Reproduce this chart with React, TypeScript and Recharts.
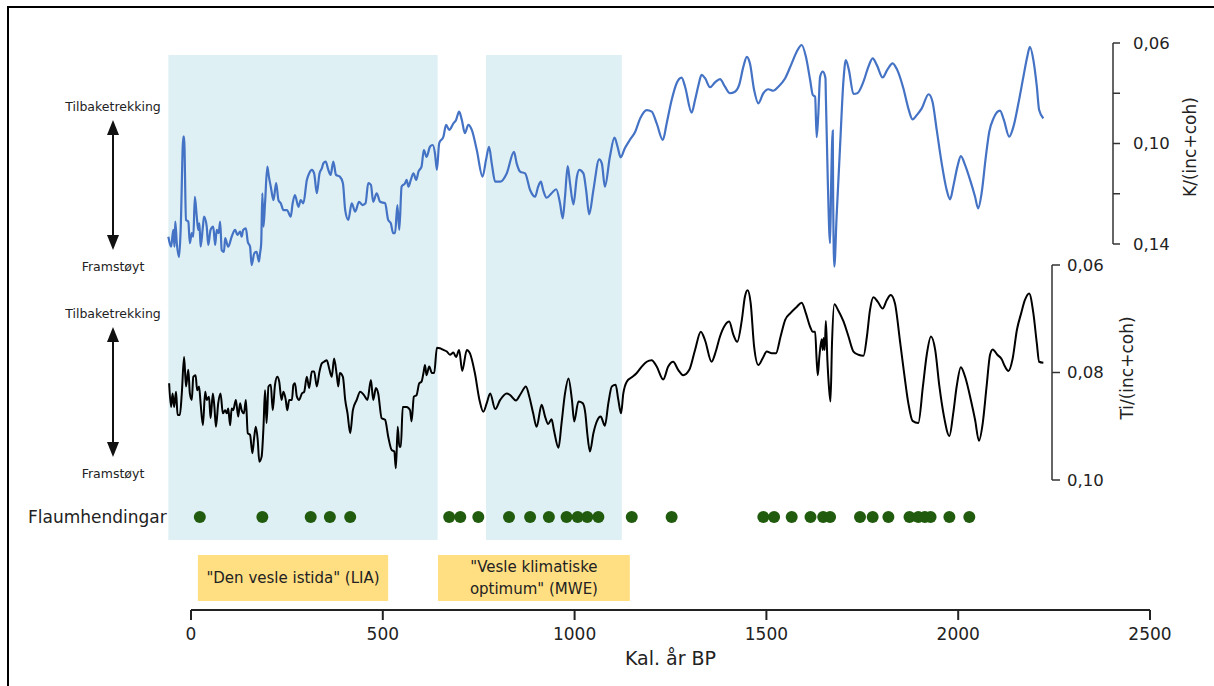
import React from "react";
import {
  ComposedChart,
  Line,
  Scatter,
  XAxis,
  YAxis,
  ReferenceArea,
  ReferenceLine,
} from "recharts";

const FONT = "'DejaVu Sans', Verdana, sans-serif";

// K/(inc+coh) against Kal. år BP
const kSeries: [number, number][] = [
  [-59, 0.1371], [-52, 0.1411], [-46, 0.1344], [-43, 0.1411], [-41, 0.1311], [-37, 0.1397], [-31, 0.1451], [-27, 0.1344],
  [-20, 0.0973], [-18, 0.0973], [-13, 0.1304], [-7, 0.1311], [-3, 0.1397], [2, 0.1357], [6, 0.1371], [10, 0.1212],
  [15, 0.1291], [19, 0.1344], [22, 0.1318], [25, 0.1411], [31, 0.1331], [34, 0.1291], [41, 0.1331], [45, 0.1404],
  [51, 0.1344], [58, 0.1331], [63, 0.1404], [67, 0.1344], [72, 0.1357], [76, 0.1311], [80, 0.1424], [86, 0.1431],
  [89, 0.1377], [97, 0.1411], [106, 0.1371], [115, 0.1344], [121, 0.1364], [128, 0.1351], [132, 0.1371], [136, 0.1344],
  [143, 0.1338], [148, 0.1391], [154, 0.1411], [158, 0.1484], [165, 0.1437], [171, 0.1431], [177, 0.147], [180, 0.1437],
  [183, 0.1397], [186, 0.1198], [189, 0.1331], [193, 0.1238], [199, 0.1092], [203, 0.1132], [208, 0.1172], [215, 0.1225],
  [222, 0.1158], [228, 0.1225], [234, 0.1238], [241, 0.1265], [250, 0.1265], [260, 0.1291], [265, 0.1238], [271, 0.1205],
  [280, 0.1252], [286, 0.1225], [293, 0.1238], [302, 0.1145], [308, 0.1119], [315, 0.1105], [321, 0.1119], [328, 0.1198],
  [335, 0.1119], [341, 0.1099], [345, 0.1079], [351, 0.1072], [358, 0.1105], [364, 0.1125], [371, 0.1072], [378, 0.1125],
  [388, 0.1132], [396, 0.1158], [402, 0.1265], [410, 0.1304], [419, 0.1238], [428, 0.1271], [438, 0.1232], [447, 0.1245],
  [455, 0.1238], [462, 0.1158], [469, 0.1165], [475, 0.1232], [484, 0.1198], [493, 0.1232], [506, 0.1238], [514, 0.1304],
  [521, 0.1318], [527, 0.1357], [532, 0.1357], [538, 0.1245], [543, 0.1344], [549, 0.1172], [558, 0.1158], [562, 0.1145],
  [567, 0.1172], [573, 0.1145], [580, 0.1119], [587, 0.1145], [593, 0.1112], [601, 0.1092], [607, 0.1026], [614, 0.1053],
  [623, 0.1013], [630, 0.1006], [636, 0.1039], [641, 0.1105], [647, 0.0999], [658, 0.0973], [665, 0.0926], [673, 0.0946],
  [684, 0.092], [691, 0.0906], [699, 0.0873], [706, 0.0906], [714, 0.0959], [723, 0.0926], [732, 0.0946], [745, 0.1026],
  [760, 0.1132], [769, 0.1066], [777, 0.1013], [784, 0.1079], [793, 0.1152], [806, 0.1152], [823, 0.1119], [842, 0.1033],
  [849, 0.1079], [858, 0.1112], [871, 0.1119], [884, 0.1185], [897, 0.1212], [905, 0.1172], [912, 0.1152], [918, 0.1185],
  [927, 0.1216], [940, 0.1198], [952, 0.1182], [962, 0.1238], [969, 0.1298], [975, 0.1212], [982, 0.109], [988, 0.1158],
  [997, 0.1242], [1006, 0.1132], [1012, 0.1105], [1023, 0.1119], [1030, 0.1185], [1038, 0.1282], [1049, 0.1185], [1064, 0.1063],
  [1071, 0.1079], [1079, 0.1172], [1092, 0.1053], [1104, 0.0977], [1112, 0.1013], [1120, 0.1055], [1131, 0.1019], [1144, 0.0986],
  [1158, 0.0953], [1171, 0.09], [1188, 0.0867], [1201, 0.0873], [1214, 0.092], [1230, 0.0986], [1240, 0.092], [1253, 0.0827],
  [1266, 0.076], [1279, 0.0738], [1288, 0.0774], [1305, 0.0877], [1314, 0.0827], [1323, 0.0767], [1331, 0.0727], [1340, 0.074],
  [1353, 0.0776], [1366, 0.0757], [1379, 0.0744], [1392, 0.0774], [1405, 0.08], [1418, 0.0794], [1429, 0.0767], [1440, 0.0694],
  [1449, 0.0655], [1457, 0.0681], [1468, 0.0787], [1479, 0.084], [1492, 0.08], [1505, 0.0784], [1518, 0.079], [1531, 0.0774],
  [1549, 0.074], [1566, 0.0681], [1579, 0.0635], [1592, 0.0608], [1603, 0.0655], [1614, 0.0747], [1621, 0.0807], [1627, 0.0814],
  [1631, 0.0975], [1635, 0.0893], [1640, 0.0734], [1647, 0.0714], [1654, 0.074], [1655, 0.0814], [1660, 0.1145], [1666, 0.1397],
  [1669, 0.1145], [1673, 0.0949], [1674, 0.1212], [1677, 0.149], [1683, 0.1291], [1692, 0.1013], [1701, 0.0747], [1707, 0.0668],
  [1715, 0.0707], [1727, 0.0803], [1737, 0.08], [1753, 0.0754], [1766, 0.0694], [1777, 0.0661], [1788, 0.0688], [1803, 0.0737],
  [1815, 0.0707], [1829, 0.0681], [1841, 0.0707], [1857, 0.078], [1870, 0.086], [1881, 0.0904], [1892, 0.0887], [1905, 0.086],
  [1923, 0.0804], [1933, 0.0834], [1944, 0.0946], [1957, 0.1079], [1970, 0.1185], [1979, 0.1222], [1987, 0.1172], [1998, 0.1092],
  [2007, 0.105], [2018, 0.1086], [2031, 0.1145], [2044, 0.1212], [2052, 0.1258], [2061, 0.1198], [2072, 0.1053], [2081, 0.0953],
  [2092, 0.09], [2109, 0.0869], [2119, 0.0906], [2133, 0.0973], [2144, 0.0933], [2157, 0.084], [2170, 0.0734], [2180, 0.0655],
  [2187, 0.0615], [2196, 0.0668], [2205, 0.0774], [2211, 0.0867], [2222, 0.09],
];

// Ti/(inc+coh) against Kal. år BP
const tiSeries: [number, number][] = [
  [-57, 0.082], [-52, 0.0864], [-48, 0.0839], [-44, 0.0864], [-39, 0.0836], [-35, 0.0879], [-29, 0.0879], [-24, 0.0839],
  [-18, 0.0771], [-13, 0.0826], [-7, 0.0795], [-3, 0.0839], [2, 0.0851], [6, 0.0808], [12, 0.0805], [16, 0.0833],
  [21, 0.0826], [25, 0.0857], [31, 0.0898], [37, 0.0836], [41, 0.0851], [47, 0.0845], [51, 0.0885], [57, 0.0839],
  [61, 0.0864], [65, 0.0901], [71, 0.0857], [77, 0.0839], [83, 0.0876], [89, 0.087], [93, 0.0876], [97, 0.0867],
  [102, 0.0898], [106, 0.0867], [110, 0.087], [117, 0.0851], [123, 0.0882], [128, 0.0857], [132, 0.087], [138, 0.0876],
  [143, 0.0851], [148, 0.0913], [154, 0.0916], [160, 0.095], [165, 0.0919], [169, 0.0901], [174, 0.0926], [178, 0.0966],
  [184, 0.0957], [189, 0.0901], [193, 0.0833], [197, 0.0894], [202, 0.0826], [208, 0.0823], [213, 0.087], [219, 0.0823],
  [225, 0.0808], [230, 0.0817], [236, 0.0851], [241, 0.0836], [247, 0.0851], [251, 0.087], [256, 0.0851], [263, 0.0851],
  [267, 0.0823], [271, 0.082], [276, 0.0845], [282, 0.0851], [289, 0.0839], [295, 0.0836], [302, 0.0808], [308, 0.0829],
  [315, 0.0798], [321, 0.0798], [328, 0.0826], [335, 0.0798], [341, 0.0783], [347, 0.078], [354, 0.0777], [361, 0.0795],
  [367, 0.0808], [373, 0.0774], [380, 0.0805], [384, 0.0826], [388, 0.0801], [396, 0.0808], [402, 0.0851], [408, 0.0876],
  [415, 0.0913], [422, 0.087], [432, 0.0851], [441, 0.0836], [451, 0.0842], [460, 0.0851], [469, 0.0814], [475, 0.0851],
  [482, 0.0829], [488, 0.0839], [497, 0.0885], [506, 0.0888], [514, 0.0919], [523, 0.0944], [530, 0.0947], [534, 0.0978],
  [539, 0.0901], [543, 0.0938], [547, 0.0938], [552, 0.0864], [562, 0.0864], [571, 0.087], [575, 0.0891], [581, 0.0845],
  [588, 0.0842], [595, 0.082], [601, 0.0817], [606, 0.0801], [610, 0.0786], [614, 0.0805], [621, 0.0789], [628, 0.0801],
  [634, 0.0801], [641, 0.0754], [649, 0.0755], [658, 0.0758], [667, 0.0761], [675, 0.0767], [684, 0.0763], [691, 0.0771],
  [699, 0.0758], [707, 0.0797], [719, 0.0758], [727, 0.0764], [740, 0.0801], [752, 0.0851], [762, 0.0873], [771, 0.0857],
  [780, 0.0839], [793, 0.0868], [806, 0.0851], [823, 0.0839], [832, 0.0842], [847, 0.0852], [860, 0.0839], [873, 0.0826],
  [882, 0.0845], [892, 0.0876], [901, 0.0901], [914, 0.086], [923, 0.0882], [931, 0.0896], [940, 0.0887], [946, 0.0907],
  [958, 0.094], [966, 0.0894], [975, 0.0839], [984, 0.0811], [993, 0.0851], [999, 0.0891], [1010, 0.0854], [1021, 0.0857],
  [1028, 0.0876], [1033, 0.0913], [1040, 0.0947], [1049, 0.0913], [1058, 0.0891], [1068, 0.0882], [1079, 0.0899], [1088, 0.0857],
  [1097, 0.0826], [1107, 0.0823], [1114, 0.0851], [1121, 0.0876], [1127, 0.0839], [1136, 0.0817], [1149, 0.0809], [1162, 0.0801],
  [1175, 0.0789], [1188, 0.078], [1201, 0.0777], [1214, 0.0789], [1231, 0.0813], [1244, 0.0789], [1257, 0.078], [1270, 0.0795],
  [1283, 0.0805], [1299, 0.0795], [1314, 0.0758], [1329, 0.0724], [1340, 0.074], [1357, 0.078], [1368, 0.0761], [1379, 0.0733],
  [1392, 0.0712], [1403, 0.0705], [1414, 0.073], [1424, 0.0743], [1436, 0.0702], [1444, 0.0659], [1451, 0.0647], [1459, 0.0671],
  [1468, 0.0752], [1479, 0.0786], [1490, 0.0774], [1501, 0.0761], [1514, 0.0764], [1525, 0.0764], [1537, 0.0733], [1549, 0.0702],
  [1562, 0.069], [1579, 0.0678], [1592, 0.067], [1603, 0.069], [1614, 0.0715], [1621, 0.0724], [1627, 0.0724], [1631, 0.0777],
  [1634, 0.0805], [1638, 0.0771], [1644, 0.0738], [1647, 0.0758], [1649, 0.0736], [1652, 0.0758], [1655, 0.0704], [1659, 0.0777],
  [1663, 0.0826], [1667, 0.0854], [1671, 0.0746], [1677, 0.0673], [1687, 0.0684], [1701, 0.0705], [1714, 0.0733], [1727, 0.0761],
  [1740, 0.0767], [1753, 0.0769], [1762, 0.0733], [1770, 0.0684], [1779, 0.066], [1790, 0.0668], [1803, 0.0681], [1814, 0.0665],
  [1824, 0.0656], [1835, 0.0671], [1848, 0.074], [1859, 0.0801], [1870, 0.0857], [1881, 0.089], [1896, 0.0894], [1908, 0.0826],
  [1918, 0.0767], [1929, 0.0733], [1940, 0.0758], [1951, 0.0826], [1963, 0.0882], [1977, 0.0918], [1987, 0.0876], [1996, 0.0826],
  [2007, 0.079], [2018, 0.0808], [2033, 0.0851], [2044, 0.0888], [2054, 0.0927], [2064, 0.0894], [2074, 0.0826], [2083, 0.0767],
  [2090, 0.0757], [2102, 0.0767], [2113, 0.0775], [2122, 0.0789], [2131, 0.0797], [2142, 0.0774], [2153, 0.0721], [2164, 0.069],
  [2174, 0.0665], [2185, 0.0653], [2196, 0.069], [2205, 0.0746], [2211, 0.078], [2222, 0.0782],
];

// flood events (Flaumhendingar), years BP
const floodYears = [
  23, 186, 312, 362, 415, 673, 702, 749, 829, 884, 933, 979, 1008, 1033, 1062, 1149,
  1253, 1492, 1520, 1566, 1615, 1648, 1666, 1744, 1777, 1818, 1873, 1896, 1913, 1928, 1977, 2029,
];

// shaded climate periods (LIA, MWE)
const shadedPeriods: [number, number][] = [[-59, 643], [769, 1123]];
const periodBoxes = [
  { from: 18, to: 514, lines: ['"Den vesle istida" (LIA)'] },
  { from: 644, to: 1144, lines: ['"Vesle klimatiske', 'optimum" (MWE)'] },
];

const xTicks = [0, 500, 1000, 1500, 2000, 2500];
const kTicks = [0.06, 0.08, 0.1, 0.12, 0.14];
const kLabelled = [0.06, 0.1, 0.14];
const tiTicks = [0.06, 0.08, 0.1];

const W = 1214;
const H = 686;
const AXIS = "#333";
const BLUE = "#4472c4";
const SHADE = "#def0f4";
const YELLOW = "#ffdf82";
const GREEN = "#215c0e";

// horizontal layout: pixel of year 0 and year 2500
const X_ZERO = 191;
const X_END = 1150;
const pxPerYear = (X_END - X_ZERO) / 2500;
const yearAt = (px: number) => (px - X_ZERO) / pxPerYear;

// K panel: 0.06 at y=43, 0.14 at y=244, plot continues to 268 so the dip fits
const K_TOP = 43;
const K_AXIS_BOTTOM = 244;
const K_PLOT_BOTTOM = 268;
const K_RIGHT = 1113;
const kMax = 0.06 + ((K_PLOT_BOTTOM - K_TOP) * 0.08) / (K_AXIS_BOTTOM - K_TOP);

// Ti panel
const TI_TOP = 265;
const TI_BOTTOM = 480;
const TI_RIGHT = 1052;

// bottom band panel (shading, events, x axis)
const BAND_TOP = 55;
const BAND_BOTTOM = 610;
const bandAt = (py: number) => ((BAND_BOTTOM - py) * 100) / (BAND_BOTTOM - BAND_TOP);

const PLOT_LEFT = 160;

const kData = kSeries.map(([year, v]) => ({ year, v }));
const tiData = tiSeries.map(([year, v]) => ({ year, v }));
const floodData = floodYears.map((year) => ({ year, row: bandAt(517) }));

const fmt = (v: number) => v.toFixed(2).replace(".", ",");
const tickFont = { fontSize: 16.5, fill: "#222", fontFamily: FONT };

const layer: React.CSSProperties = { position: "absolute", left: 0, top: 0 };

function periodShape(lines: string[]) {
  return (p: any) => {
    const cx = p.x + p.width / 2;
    const cy = p.y + p.height / 2;
    const lh = 22;
    const first = cy - ((lines.length - 1) * lh) / 2 + 5;
    return (
      <g>
        <rect x={p.x} y={p.y} width={p.width} height={p.height} fill={YELLOW} />
        <text textAnchor="middle" fontSize={15} fill="#222" fontFamily={FONT}>
          {lines.map((l, i) => (
            <tspan key={i} x={cx} y={first + i * lh}>
              {l}
            </tspan>
          ))}
        </text>
      </g>
    );
  };
}

function Arrow({ x, y1, y2 }: { x: number; y1: number; y2: number }) {
  const hl = 15;
  const hw = 6;
  return (
    <g fill="#111" stroke="#111">
      <line x1={x} y1={y1 + hl - 2} x2={x} y2={y2 - hl + 2} strokeWidth={2} />
      <polygon points={`${x},${y1} ${x - hw},${y1 + hl} ${x + hw},${y1 + hl}`} stroke="none" />
      <polygon points={`${x},${y2} ${x - hw},${y2 - hl} ${x + hw},${y2 - hl}`} stroke="none" />
    </g>
  );
}

function Annotations() {
  const small = { fontSize: 12.5, fill: "#222", fontFamily: FONT, textAnchor: "middle" as const };
  return (
    <svg width={W} height={H} style={{ ...layer, pointerEvents: "none" }}>
      <text x={113} y={111} {...small}>Tilbaketrekking</text>
      <Arrow x={113} y1={120} y2={250} />
      <text x={113} y={271} {...small}>Framstøyt</text>
      <text x={113} y={318} {...small}>Tilbaketrekking</text>
      <Arrow x={113} y1={327} y2={457} />
      <text x={113} y={478} {...small}>Framstøyt</text>
      <text x={28} y={523} fontSize={17} fill="#222" fontFamily={FONT}>Flaumhendingar</text>
      <text
        x={1190}
        y={147}
        fontSize={17}
        fill="#222"
        fontFamily={FONT}
        textAnchor="middle"
        dominantBaseline="central"
        transform="rotate(-90 1190 147)"
      >
        K/(inc+coh)
      </text>
      <text
        x={1127}
        y={368}
        fontSize={17}
        fill="#222"
        fontFamily={FONT}
        textAnchor="middle"
        dominantBaseline="central"
        transform="rotate(-90 1127 368)"
      >
        Ti/(inc+coh)
      </text>
    </svg>
  );
}

export default function App() {
  return (
    <div
      style={{
        position: "absolute",
        left: 0,
        top: 0,
        width: W,
        height: H,
        overflow: "hidden",
        background: "#fff",
        fontFamily: FONT,
      }}
    >
      {/* frame */}
      <div
        style={{
          position: "absolute",
          left: 7,
          top: 6,
          width: W - 7,
          height: H - 6,
          borderLeft: "2px solid #000",
          borderTop: "2px solid #000",
          boxSizing: "border-box",
        }}
      />

      {/* shaded periods, flood events, time axis */}
      <div style={layer}>
        <ComposedChart
          width={W}
          height={H}
          margin={{ top: BAND_TOP, bottom: H - BAND_BOTTOM - 60, left: X_ZERO, right: W - X_END }}
        >
          <XAxis
            type="number"
            dataKey="year"
            domain={[0, 2500]}
            ticks={xTicks}
            interval={0}
            height={60}
            tickSize={10}
            tickMargin={8}
            stroke="#222"
            axisLine={{ stroke: "#222", strokeWidth: 2 }}
            tickLine={{ stroke: "#222", strokeWidth: 2 }}
            tick={{ ...tickFont, fontSize: 17 }}
            allowDataOverflow
            label={{
              value: "Kal. år BP",
              position: "insideBottom",
              offset: 5,
              fontSize: 19,
              fill: "#222",
              fontFamily: FONT,
            }}
          />
          <YAxis yAxisId="band" dataKey="row" type="number" domain={[0, 100]} hide allowDataOverflow />
          {shadedPeriods.map(([a, b]) => (
            <ReferenceArea
              key={`s${a}`}
              yAxisId="band"
              x1={a}
              x2={b}
              y1={bandAt(540)}
              y2={100}
              fill={SHADE}
              fillOpacity={1}
              stroke="none"
              ifOverflow="visible"
            />
          ))}
          {periodBoxes.map((p) => (
            <ReferenceArea
              key={`p${p.from}`}
              yAxisId="band"
              x1={p.from}
              x2={p.to}
              y1={bandAt(601)}
              y2={bandAt(555)}
              ifOverflow="visible"
              shape={periodShape(p.lines)}
            />
          ))}
          <Scatter
            yAxisId="band"
            data={floodData}
            isAnimationActive={false}
            shape={(p: any) => <circle cx={p.cx} cy={p.cy} r={6} fill={GREEN} />}
          />
        </ComposedChart>
      </div>

      {/* Ti/(inc+coh) */}
      <div style={layer}>
        <ComposedChart
          width={W}
          height={H}
          data={tiData}
          margin={{ top: TI_TOP, bottom: H - TI_BOTTOM, left: PLOT_LEFT, right: W - TI_RIGHT - 90 }}
        >
          <XAxis type="number" dataKey="year" domain={[yearAt(PLOT_LEFT), yearAt(TI_RIGHT)]} hide allowDataOverflow />
          <YAxis
            yAxisId="ti"
            orientation="right"
            width={90}
            type="number"
            domain={[0.06, 0.1]}
            reversed
            ticks={tiTicks}
            interval={0}
            stroke={AXIS}
            axisLine={{ stroke: AXIS, strokeWidth: 1.5 }}
            tickLine={{ stroke: AXIS, strokeWidth: 1.5 }}
            tickSize={8}
            tickMargin={7}
            tick={tickFont}
            tickFormatter={fmt}
            allowDataOverflow
          />
          <Line
            yAxisId="ti"
            dataKey="v"
            type="monotone"
            stroke="#000"
            strokeWidth={2}
            dot={false}
            isAnimationActive={false}
          />
        </ComposedChart>
      </div>

      {/* K/(inc+coh) */}
      <div style={layer}>
        <ComposedChart
          width={W}
          height={H}
          data={kData}
          margin={{ top: K_TOP, bottom: H - K_PLOT_BOTTOM, left: PLOT_LEFT, right: W - K_RIGHT - 90 }}
        >
          <XAxis type="number" dataKey="year" domain={[yearAt(PLOT_LEFT), yearAt(K_RIGHT)]} hide allowDataOverflow />
          <YAxis
            yAxisId="k"
            orientation="right"
            width={90}
            type="number"
            domain={[0.06, kMax]}
            reversed
            ticks={kTicks}
            interval={0}
            stroke={AXIS}
            axisLine={false}
            tickLine={{ stroke: AXIS, strokeWidth: 1.5 }}
            tickSize={7}
            tickMargin={13}
            tick={tickFont}
            tickFormatter={(v: number) => (kLabelled.some((t) => Math.abs(t - v) < 1e-9) ? fmt(v) : "")}
            allowDataOverflow
          />
          <ReferenceLine
            yAxisId="k"
            segment={[
              { x: yearAt(K_RIGHT), y: 0.06 },
              { x: yearAt(K_RIGHT), y: 0.14 },
            ]}
            stroke={AXIS}
            strokeWidth={1.5}
            ifOverflow="visible"
          />
          <Line
            yAxisId="k"
            dataKey="v"
            type="monotone"
            stroke={BLUE}
            strokeWidth={2.2}
            dot={false}
            isAnimationActive={false}
          />
        </ComposedChart>
      </div>

      <Annotations />
    </div>
  );
}
